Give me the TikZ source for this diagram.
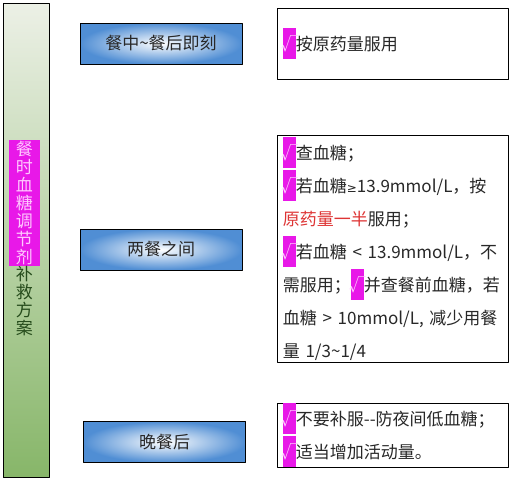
\documentclass[tikz,border=0pt]{standalone}
\usepackage{fontspec}
\setmainfont{Noto Sans CJK SC}
\newfontfamily\symfont{DejaVu Sans}
\usetikzlibrary{positioning}
\definecolor{barTop}{RGB}{236,240,230}
\definecolor{barBot}{RGB}{135,182,105}
\definecolor{boxBlue}{RGB}{80,142,212}
\definecolor{tickMag}{RGB}{232,24,232}
\definecolor{tickPink}{RGB}{255,200,255}
\definecolor{halfRed}{RGB}{222,52,52}
\definecolor{barText}{RGB}{38,76,28}
\definecolor{inkGray}{RGB}{40,40,40}
\newcommand{\tickmark}{{\setlength{\fboxsep}{0pt}\colorbox{tickMag}{\textcolor{tickPink}{\rule[-9pt]{0pt}{31pt}\makebox[13pt]{√}}}}}
\newcommand{\geqmark}{{\symfont\fontsize{12}{33}\selectfont ≥}}
\begin{document}
\begin{tikzpicture}[x=1pt,y=-1pt,font=\fontsize{17}{33}\selectfont,line join=round,text=inkGray,
 barbox/.style={draw,line width=0.8pt,top color=barTop,bottom color=barBot,minimum width=46,minimum height=474,inner sep=0},
 timebox/.style={draw,line width=0.8pt,inner color=white,outer color=boxBlue,minimum width=162,minimum height=41,inner sep=0},
 notebox/.style={draw,line width=0.8pt,fill=white,anchor=north west,align=left,text width=220,inner xsep=5.5,inner ysep=0,minimum width=231}]
\useasboundingbox (0,0) rectangle (512,479);
% left bar
\node[barbox] (bar) at (26,240) {};
\node[fill=tickMag,text=tickPink,minimum width=31,minimum height=126,inner sep=0,align=center,
 font=\fontsize{17}{18}\selectfont] (title) at (24.5,203) {餐\\时\\血\\糖\\调\\节\\剂};
\node[below=0pt of title,text=barText,inner sep=0,align=center,
 font=\fontsize{17}{18}\selectfont] (plan) {补\\救\\方\\案};
% times
\node[timebox] (T1) at (161,43.5) {餐中\textasciitilde 餐后即刻};
\node[timebox] (T2) at (161,249.5) {两餐之间};
\node[timebox] (T3) at (164.5,442) {晚餐后};
% notes
\node[notebox,minimum height=71] (N1) at (277,8) {\tickmark 按原药量服用};
\node[notebox,minimum height=227] (N2) at (277,135) {\tickmark 查血糖；\\
\tickmark 若血糖\geqmark 13.9mmol/L，按\\
\textcolor{halfRed}{原药量一半}服用；\\
\tickmark 若血糖 < 13.9mmol/L，不\\
需服用；\tickmark 并查餐前血糖，若\\
血糖 > 10mmol/L, 减少用餐\\
量 1/3\textasciitilde 1/4};
\node[notebox,minimum height=64] (N3) at (277,403) {\tickmark 不要补服{-}{-}防夜间低血糖；\\
\tickmark 适当增加活动量。};
\end{tikzpicture}
\end{document}
